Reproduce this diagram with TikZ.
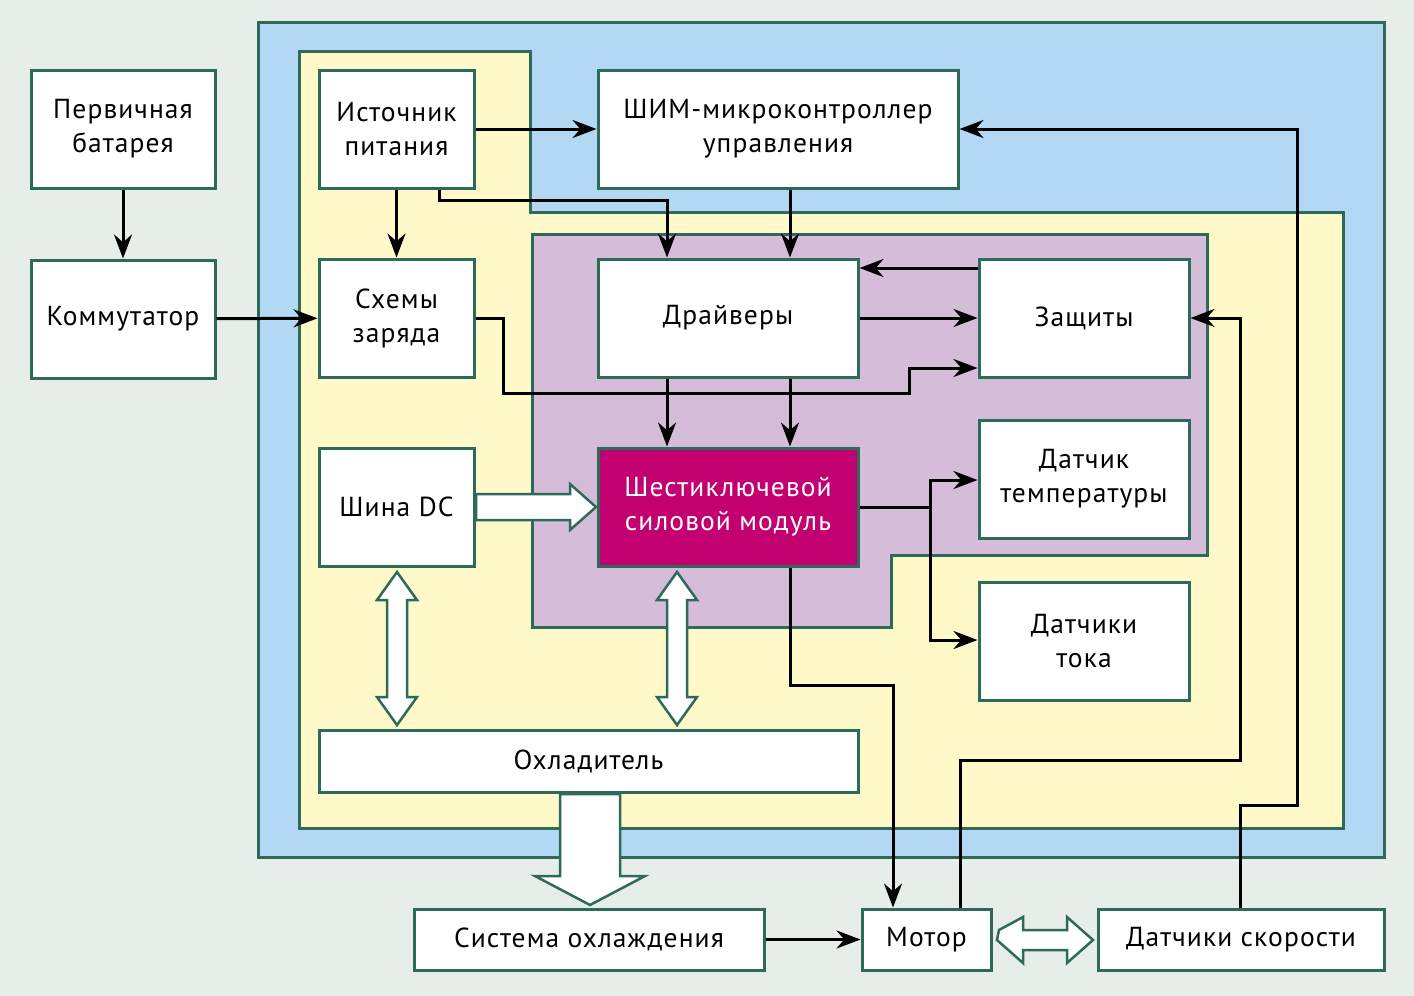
\documentclass[tikz,border=0pt]{standalone}
\usepackage{fontspec}
\setmainfont{PT Sans}[LetterSpace=4]
\usetikzlibrary{calc,arrows.meta}
\definecolor{bg}{HTML}{E7EEE9}
\definecolor{blu}{HTML}{B3D8F3}
\definecolor{yel}{HTML}{FFF9CA}
\definecolor{pur}{HTML}{D5BCD9}
\definecolor{grn}{HTML}{2D6A5A}
\definecolor{mag}{HTML}{C2006F}
\begin{document}
\begin{tikzpicture}[x=1pt,y=-1pt,
  bx/.style={draw=grn,line width=3pt,fill=white,inner sep=0pt,align=center,font=\fontsize{27.5}{34}\selectfont},
  reg/.style={draw=grn,line width=3pt},
  arr/.style={line width=3pt,-{Stealth[length=24pt,width=18pt]}},
  hol/.style={draw=grn,line width=2.5pt,fill=white,line join=miter}]
\useasboundingbox (0,0) rectangle (1414,996);
\fill[bg] (0,0) rectangle (1414,996);
\draw[reg,fill=blu] (258,22) rectangle (1384,857);
\draw[reg,fill=yel] (299,51)--(530,51)--(530,212)--(1343,212)--(1343,828)--(299,828)--cycle;
\draw[reg,fill=pur] (532,234)--(1207,234)--(1207,555)--(891,555)--(891,627)--(532,627)--cycle;
\newcommand\bx[6]{\node[bx,minimum width={#4-#2},minimum height={#5-#3}] (#1) at ({(#2+#4)/2},{(#3+#5)/2}) {#6};}
\bx{bat}{31}{70}{215}{188}{Первичная\\батарея}
\bx{kom}{31}{260}{215}{378}{Коммутатор}
\bx{ist}{319}{70}{474}{188}{Источник\\питания}
\bx{shim}{598}{70}{958}{188}{ШИМ-микроконтроллер\\управления}
\bx{sch}{319}{259}{474}{377}{Схемы\\заряда}
\bx{drv}{598}{259}{858}{377}{Драйверы}
\bx{zas}{979}{259}{1189}{377}{Защиты}
\bx{dc}{319}{448}{474}{566}{Шина DC}
\node[bx,fill=mag,text=white,minimum width=260,minimum height=118] (mod) at (728,507) {Шестиключевой\\силовой модуль};
\bx{temp}{979}{420}{1189}{538}{Датчик\\температуры}
\bx{tok}{979}{582}{1189}{700}{Датчики\\тока}
\bx{ohl}{319}{730}{858}{792}{Охладитель}
\bx{sys}{414}{909}{764}{970}{Система охлаждения}
\bx{mot}{862}{909}{991}{970}{Мотор}
\bx{spd}{1098}{909}{1384}{970}{Датчики скорости}
% arrows
\draw[arr] (bat) -- (kom);
\draw[arr] (kom) -- (sch);
\draw[arr] (ist.east |- 0,129) -- (shim.west |- 0,129);
\draw[arr] (ist) -- (sch);
\draw[arr] ($(ist.south)+(43,0)$) |- (667,200) -- (drv.north -| 667,0);
\draw[arr] (shim.south -| 790,0) -- (drv.north -| 790,0);
\draw[arr] (zas.west |- 0,268) -- (drv.east |- 0,268);
\draw[arr] (drv) -- (zas);
\draw[arr] (sch.east) -| (503,393) -| (909,368) -- (zas.west |- 0,368);
\draw[arr] (drv.south -| 667,0) -- (mod.north -| 667,0);
\draw[arr] (drv.south -| 790,0) -- (mod.north -| 790,0);
\draw[arr] (mod.east) -| (930,480) -- (temp.west |- 0,480);
\draw[arr] (930,507) |- (tok.west |- 0,640);
\draw[arr] (mod.south -| 790,0) |- (893,685) -- (mot.north -| 893,0);
\draw[arr] (mot.north -| 960,0) |- (1240,760) |- (zas.east);
\draw[arr] (spd.north -| 1240,0) |- (1297,805) |- (shim.east |- 0,129);
\draw[arr] (sys) -- (mot);
% hollow arrows
\draw[hol] (476,494)--(570,494)--(570,484)--(596,507)--(570,530)--(570,520)--(476,520)--cycle;
\newcommand\dbl[3]{\draw[hol] (#1-10,#2+28)--(#1-20,#2+28)--(#1,#2)--(#1+20,#2+28)--(#1+10,#2+28)--(#1+10,#3-28)--(#1+20,#3-28)--(#1,#3)--(#1-20,#3-28)--(#1-10,#3-28)--cycle;}
\dbl{397}{572}{725}
\dbl{677}{572}{725}
\draw[hol] (999,930)--(1023,917)--(1023,930)--(1067,930)--(1067,917)--(1093,940)--(1067,963)--(1067,950)--(1023,950)--(1023,963)--(997,940)--cycle;
\draw[hol] (560,794)--(620,794)--(620,876)--(645,876)--(590,905)--(535,876)--(560,876)--cycle;
\end{tikzpicture}
\end{document}
